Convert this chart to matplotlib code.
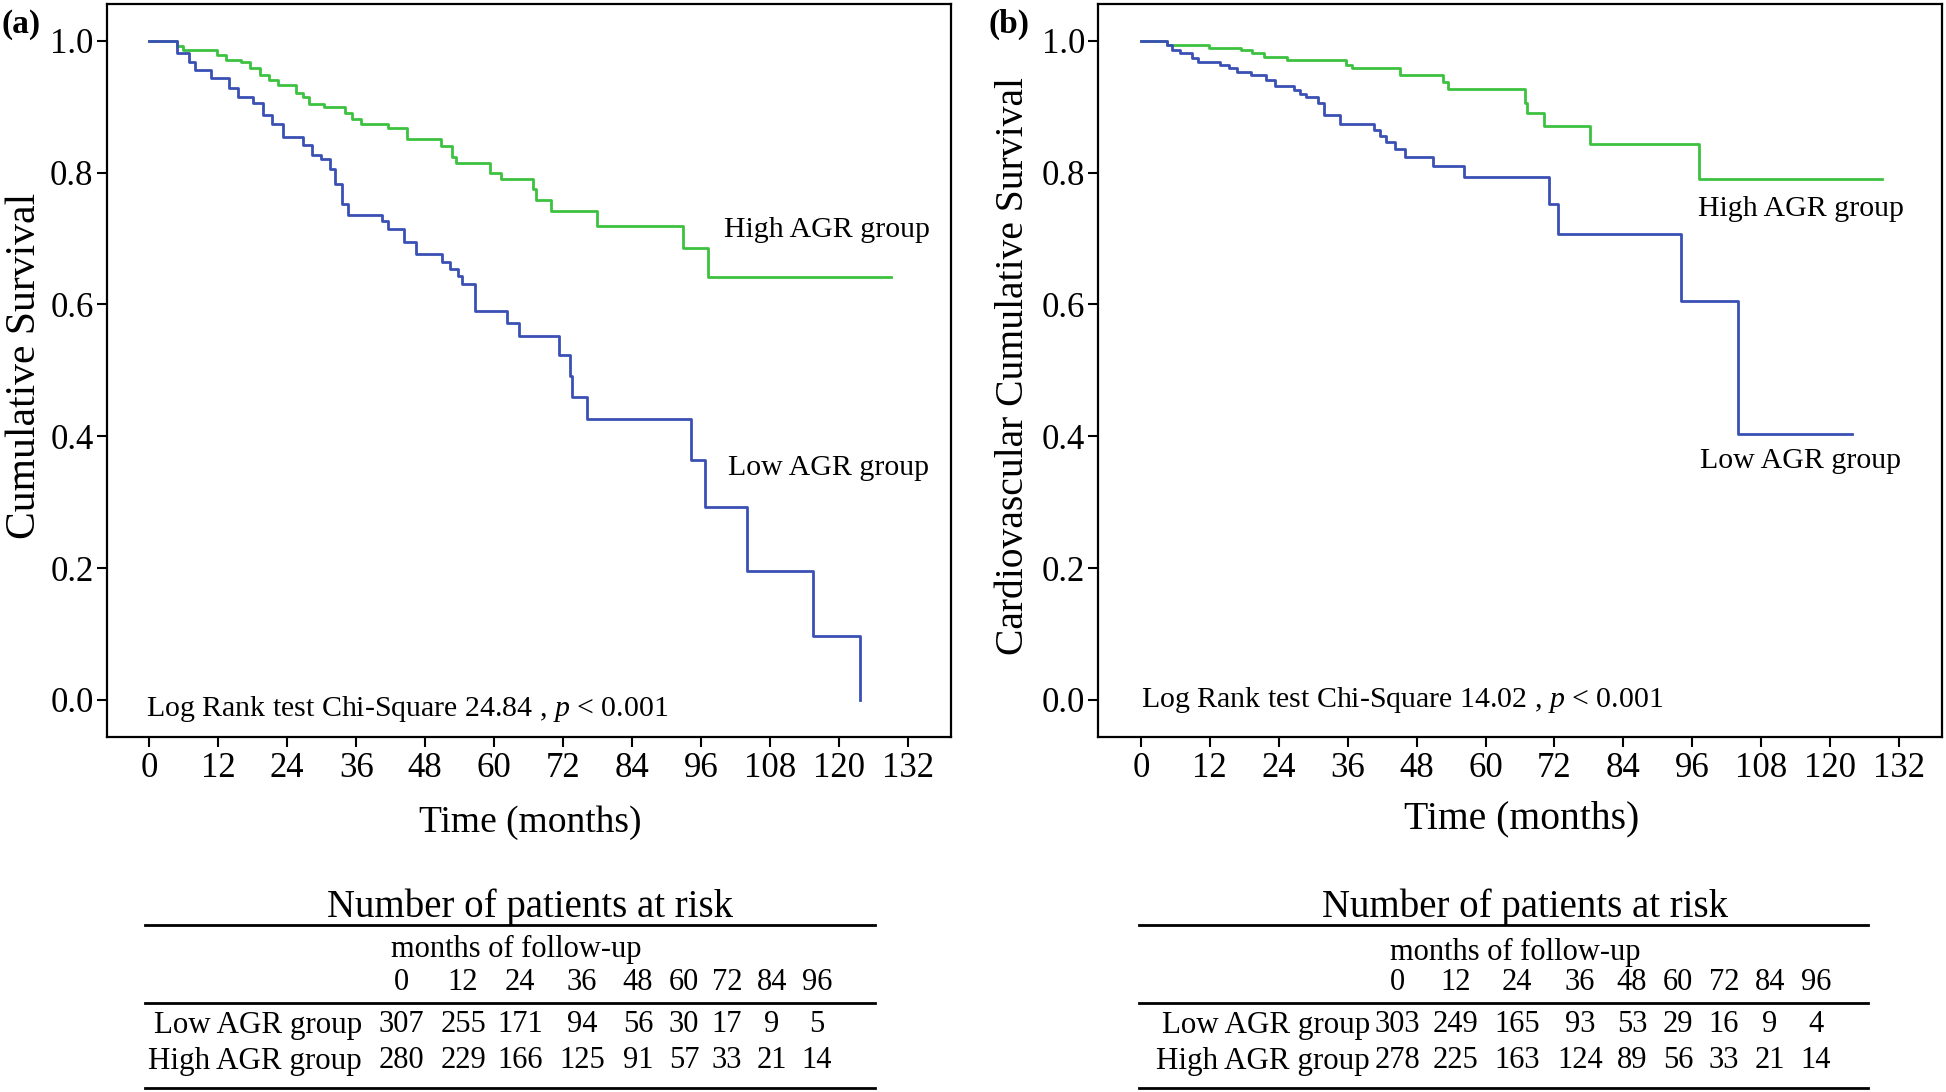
import matplotlib
matplotlib.use("Agg")
import matplotlib.pyplot as plt
from matplotlib.lines import Line2D

plt.rcParams["font.family"] = ["Liberation Serif", "DejaVu Serif"]
plt.rcParams["mathtext.fontset"] = "custom"
plt.rcParams["mathtext.rm"] = "Liberation Serif"
plt.rcParams["mathtext.it"] = "Liberation Serif:italic"

BLUE = "#3a50b4"
GREEN = "#3cc240"

# Kaplan-Meier step points (months, survival)
a_low_t = [0, 4.8, 6.9, 8.0, 10.7, 13.9, 15.5, 18.0, 19.7, 21.3, 23.2, 26.7, 28.3,
           29.9, 31.5, 32.3, 33.6, 34.5, 40.5, 41.6, 44.3, 46.4, 50.9, 52.3, 53.7,
           54.4, 56.6, 62.2, 64.3, 71.2, 73.1, 73.6, 76.1, 94.2, 96.6, 104.0, 115.5, 123.7]
a_low_s = [1.0, 0.982, 0.967, 0.955, 0.944, 0.929, 0.914, 0.906, 0.888, 0.873, 0.854,
           0.842, 0.827, 0.820, 0.805, 0.782, 0.752, 0.735, 0.726, 0.714, 0.695, 0.677,
           0.665, 0.654, 0.643, 0.631, 0.590, 0.572, 0.552, 0.524, 0.492, 0.459, 0.426,
           0.364, 0.292, 0.195, 0.097, 0.0]
a_high_t = [0, 4.8, 5.8, 11.7, 13.3, 16.0, 17.6, 19.2, 20.8, 22.4, 25.6, 26.7, 27.7,
            30.4, 34.1, 35.2, 36.8, 41.6, 44.8, 50.7, 52.6, 53.4, 59.2, 61.2, 66.7,
            67.2, 69.9, 77.9, 92.8, 97.1, 129.1]
a_high_s = [1.0, 0.992, 0.986, 0.978, 0.970, 0.967, 0.959, 0.948, 0.940, 0.933, 0.921,
            0.914, 0.904, 0.899, 0.891, 0.882, 0.874, 0.867, 0.851, 0.841, 0.823, 0.814,
            0.799, 0.790, 0.775, 0.759, 0.741, 0.719, 0.686, 0.642, 0.642]

b_low_t = [0, 4.6, 5.4, 6.8, 8.9, 10.0, 13.7, 15.3, 16.7, 19.1, 21.8, 23.4, 26.6, 27.7,
           28.8, 30.9, 31.8, 34.7, 40.6, 41.6, 42.7, 44.3, 45.9, 50.9, 56.3, 71.1, 72.7,
           94.0, 103.9, 123.8]
b_low_s = [1.0, 0.993, 0.986, 0.982, 0.974, 0.967, 0.963, 0.959, 0.952, 0.948, 0.940,
           0.931, 0.925, 0.919, 0.914, 0.906, 0.888, 0.873, 0.864, 0.856, 0.846, 0.836,
           0.823, 0.810, 0.793, 0.753, 0.707, 0.605, 0.404, 0.404]
b_high_t = [0, 4.6, 11.8, 17.5, 19.3, 21.5, 25.5, 35.7, 36.8, 45.1, 52.6, 53.4, 66.9,
            67.2, 70.1, 78.1, 97.2, 129.0]
b_high_s = [1.0, 0.993, 0.989, 0.986, 0.982, 0.976, 0.971, 0.963, 0.958, 0.948, 0.938,
            0.927, 0.906, 0.891, 0.871, 0.844, 0.791, 0.791]

# numbers at risk
risk_months = [0, 12, 24, 36, 48, 60, 72, 84, 96]
a_low_risk = [307, 255, 171, 94, 56, 30, 17, 9, 5]
a_high_risk = [280, 229, 166, 125, 91, 57, 33, 21, 14]
b_low_risk = [303, 249, 165, 93, 53, 29, 16, 9, 4]
b_high_risk = [278, 225, 163, 124, 89, 56, 33, 21, 14]

a_chi = "24.84"
b_chi = "14.02"

W, H = 1946, 1092  # layout measured in output pixels


def fx(px):
    return px / W


def fy(py):
    return 1 - py / H


def draw_km(ax, low_t, low_s, high_t, high_s, chi, label_pos, log_pos):
    ax.step(high_t, high_s, where="post", color=GREEN, lw=2.0)
    ax.step(low_t, low_s, where="post", color=BLUE, lw=2.0)
    ax.set_xlim(-7.4, 139.4)
    ax.set_ylim(-0.0557, 1.0557)
    ax.set_xticks(range(0, 133, 12))
    ax.set_yticks([0.0, 0.2, 0.4, 0.6, 0.8, 1.0])
    ax.set_yticklabels(["0.0", "0.2", "0.4", "0.6", "0.8", "1.0"])
    ax.tick_params(labelsize=25, length=7, width=1.5)
    ax.tick_params(axis="x", pad=4)
    ax.tick_params(axis="y", pad=2.5)
    for sp in ax.spines.values():
        sp.set_linewidth(1.6)
    (hx, hy), (lx, ly) = label_pos
    ax.text(hx, hy, "High AGR group", fontsize=21.5, va="center", ha="left")
    ax.text(lx, ly, "Low AGR group", fontsize=21.5, va="center", ha="left")
    ax.text(log_pos[0], log_pos[1],
            "Log Rank test Chi-Square " + chi + " , $\\mathit{p}$ < 0.001",
            fontsize=21.5, va="baseline", ha="left")


def draw_table(fig, x0, x1, col_x, lab_right, months_x, months_y, title_x, low, high):
    fig.text(fx(title_x), fy(907), "Number of patients at risk", fontsize=28,
             ha="center", va="center")
    for yy in (924.5, 1003, 1088):
        fig.add_artist(Line2D([fx(x0), fx(x1)], [fy(yy), fy(yy)], color="black",
                              lw=2.0, transform=fig.transFigure))
    fig.text(fx(months_x), fy(months_y), "months of follow-up", fontsize=22,
             ha="center", va="center")
    for cx, m, lo, hi in zip(col_x, risk_months, low, high):
        fig.text(fx(cx), fy(982), str(m), fontsize=22, ha="center", va="center")
        fig.text(fx(cx), fy(1025), str(lo), fontsize=22, ha="center", va="center")
        fig.text(fx(cx), fy(1061), str(hi), fontsize=22, ha="center", va="center")
    fig.text(fx(lab_right), fy(1025), "Low AGR group", fontsize=22.3, ha="right",
             va="center")
    fig.text(fx(lab_right), fy(1061), "High AGR group", fontsize=22.3, ha="right",
             va="center")


fig = plt.figure(figsize=(19.46, 10.92), dpi=100)

ax_a = fig.add_axes([fx(106.7), fy(736.7), (950.7 - 106.7) / W, (736.7 - 4) / H])
draw_km(ax_a, a_low_t, a_low_s, a_high_t, a_high_s, a_chi,
        ((100.0, 0.713), (100.6, 0.352)), (-0.63, -0.024))
ax_b = fig.add_axes([fx(1098.3), fy(736.7), (1941.7 - 1098.3) / W, (736.7 - 4) / H])
draw_km(ax_b, b_low_t, b_low_s, b_high_t, b_high_s, b_chi,
        ((97.0, 0.745), (97.4, 0.362)), (0.1, -0.010))

fig.text(fx(25), fy(366), "Cumulative Survival", fontsize=30, rotation=90,
         ha="center", va="center")
fig.text(fx(1014), fy(366), "Cardiovascular Cumulative Survival", fontsize=28.5,
         rotation=90, ha="center", va="center")
fig.text(fx(530.5), fy(823), "Time (months)", fontsize=27, ha="center", va="center")
fig.text(fx(1521.5), fy(819), "Time (months)", fontsize=28.5, ha="center", va="center")
fig.text(fx(1.5), fy(24), "(a)", fontsize=24, fontweight="bold", ha="left", va="center")
fig.text(fx(989), fy(24), "(b)", fontsize=24, fontweight="bold", ha="left", va="center")

draw_table(fig, 145, 875, [401, 463, 520, 582, 638, 684, 727, 772, 817], 362, 516, 949,
           530, a_low_risk, a_high_risk)
draw_table(fig, 1139, 1868, [1397, 1456, 1517, 1580, 1632, 1678, 1724, 1770, 1816],
           1370, 1515, 952, 1525, b_low_risk, b_high_risk)

fig.savefig("out.png", dpi=100, facecolor="white")
